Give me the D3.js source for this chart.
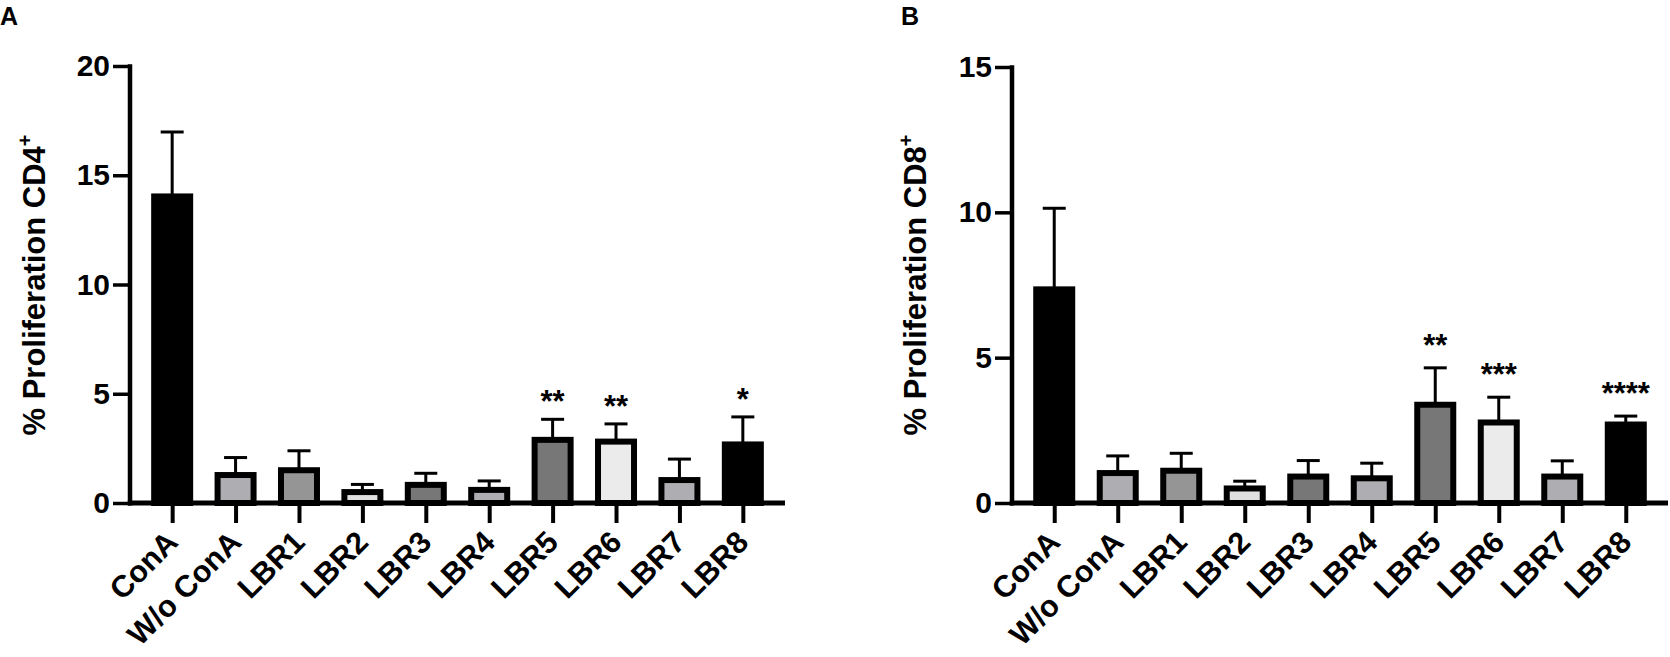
<!DOCTYPE html>
<html>
<head>
<meta charset="utf-8">
<script src="https://cdn.jsdelivr.net/npm/d3@7"></script>
<style>
  body { margin: 0; background: #fff; }
  text { font-family: "Liberation Sans", Arial, sans-serif; font-weight: bold; }
</style>
</head>
<body>
<div id="chart"></div>
<script>
// groups (same for both panels)
const groups = ["ConA", "W/o ConA", "LBR1", "LBR2", "LBR3", "LBR4", "LBR5", "LBR6", "LBR7", "LBR8"];
const fills = ["#000000", "#aeaeb2", "#959595", "#e0e0e0", "#777777", "#aeaeb2", "#777777", "#ebebeb", "#aeaeb2", "#000000"];

// panel A: CD4+ proliferation (mean, mean + SEM)
const cd4Mean = [14.03, 1.28, 1.5, 0.5, 0.83, 0.6, 2.89, 2.81, 1.05, 2.68];
const cd4Upper = [16.98, 2.08, 2.39, 0.85, 1.36, 1.01, 3.83, 3.62, 2.01, 3.94];
const cd4Stars = ["", "", "", "", "", "", "**", "**", "", "*"];
const cd4Ticks = [0, 5, 10, 15, 20];

// panel B: CD8+ proliferation
const cd8Mean = [7.35, 1.03, 1.11, 0.5, 0.91, 0.85, 3.38, 2.77, 0.91, 2.7];
const cd8Upper = [10.14, 1.62, 1.71, 0.75, 1.46, 1.37, 4.65, 3.64, 1.45, 2.99];
const cd8Stars = ["", "", "", "", "", "", "**", "***", "", "****"];
const cd8Ticks = [0, 5, 10, 15];

const width = 1670, height = 657;
const svg = d3.select("#chart").append("svg")
    .attr("width", width)
    .attr("height", height);

const barW = 36;   // bar width at stroke centre

function drawPanel(opt) {
    const g = svg.append("g");

    const y = d3.scaleLinear().domain([0, opt.yMax]).range([503, opt.yTop]);
    const x = d3.scalePoint().domain(groups)
        .range([opt.axisX, opt.axisEnd]).padding(0.665);

    // y axis
    const yAxis = g.append("g")
        .attr("transform", `translate(${opt.axisX},0)`)
        .call(d3.axisLeft(y).tickValues(opt.ticks).tickSize(17).tickPadding(3));
    yAxis.select(".domain").remove();
    yAxis.selectAll(".tick line").attr("stroke", "#000").attr("stroke-width", 3.5);
    yAxis.selectAll(".tick text").attr("font-size", 30).attr("fill", "#000");
    g.append("line")
        .attr("x1", opt.axisX).attr("x2", opt.axisX)
        .attr("y1", y(opt.yMax) - 1.75).attr("y2", y(0) + 2.5)
        .attr("stroke", "#000").attr("stroke-width", 4.5);

    const data = groups.map((k, i) => ({ k, m: opt.mean[i], u: opt.upper[i], s: opt.stars[i], f: fills[i] }));

    // error bars (upper only)
    g.selectAll(".err").data(data).enter().append("line")
        .attr("x1", d => x(d.k)).attr("x2", d => x(d.k))
        .attr("y1", d => y(d.m)).attr("y2", d => y(d.u))
        .attr("stroke", "#000").attr("stroke-width", 3);
    g.selectAll(".cap").data(data).enter().append("line")
        .attr("x1", d => x(d.k) - 11.5).attr("x2", d => x(d.k) + 11.5)
        .attr("y1", d => y(d.u)).attr("y2", d => y(d.u))
        .attr("stroke", "#000").attr("stroke-width", 3);

    // bars
    g.selectAll(".bar").data(data).enter().append("rect")
        .attr("x", d => x(d.k) - barW / 2)
        .attr("width", barW)
        .attr("y", d => y(d.m))
        .attr("height", d => y(0) - y(d.m))
        .attr("fill", d => d.f)
        .attr("stroke", "#000").attr("stroke-width", 6);

    // x axis
    const xAxis = g.append("g")
        .attr("transform", `translate(0,${y(0)})`)
        .call(d3.axisBottom(x).tickSize(20).tickSizeOuter(0));
    xAxis.select(".domain").remove();
    xAxis.selectAll(".tick line").attr("stroke", "#000").attr("stroke-width", 4);
    xAxis.selectAll(".tick text")
        .attr("font-size", 30.5).attr("fill", "#000")
        .attr("text-anchor", "end")
        .attr("x", 0).attr("y", 0).attr("dy", 0)
        .attr("transform", "translate(7,41) rotate(-45)");
    g.append("line")
        .attr("x1", opt.axisX - 2.25).attr("x2", opt.axisEnd)
        .attr("y1", y(0)).attr("y2", y(0))
        .attr("stroke", "#000").attr("stroke-width", 5);

    // significance stars
    g.selectAll(".star").data(data.filter(d => d.s)).enter().append("text")
        .attr("x", d => x(d.k))
        .attr("y", d => y(d.u) - opt.starGap + 18)
        .attr("text-anchor", "middle")
        .attr("font-size", 31)
        .text(d => d.s);

    // y label
    const lab = g.append("text")
        .attr("transform", `translate(${opt.labelX},285) rotate(-90)`)
        .attr("text-anchor", "middle")
        .attr("font-size", 31);
    lab.append("tspan").text(opt.label);
    lab.append("tspan").attr("font-size", 20).attr("dy", -13).text("+");

    // panel letter
    g.append("text").attr("x", opt.letterX).attr("y", 25)
        .attr("font-size", 25).text(opt.letter);
}

drawPanel({
    letter: "A", letterX: 0, label: "% Proliferation CD4", labelX: 45,
    axisX: 130, axisEnd: 785, yTop: 66, yMax: 20, ticks: cd4Ticks,
    mean: cd4Mean, upper: cd4Upper, stars: cd4Stars, starGap: 25
});
drawPanel({
    letter: "B", letterX: 901, label: "% Proliferation CD8", labelX: 926,
    axisX: 1012, axisEnd: 1668, yTop: 67, yMax: 15, ticks: cd8Ticks,
    mean: cd8Mean, upper: cd8Upper, stars: cd8Stars, starGap: 30
});
</script>
</body>
</html>
